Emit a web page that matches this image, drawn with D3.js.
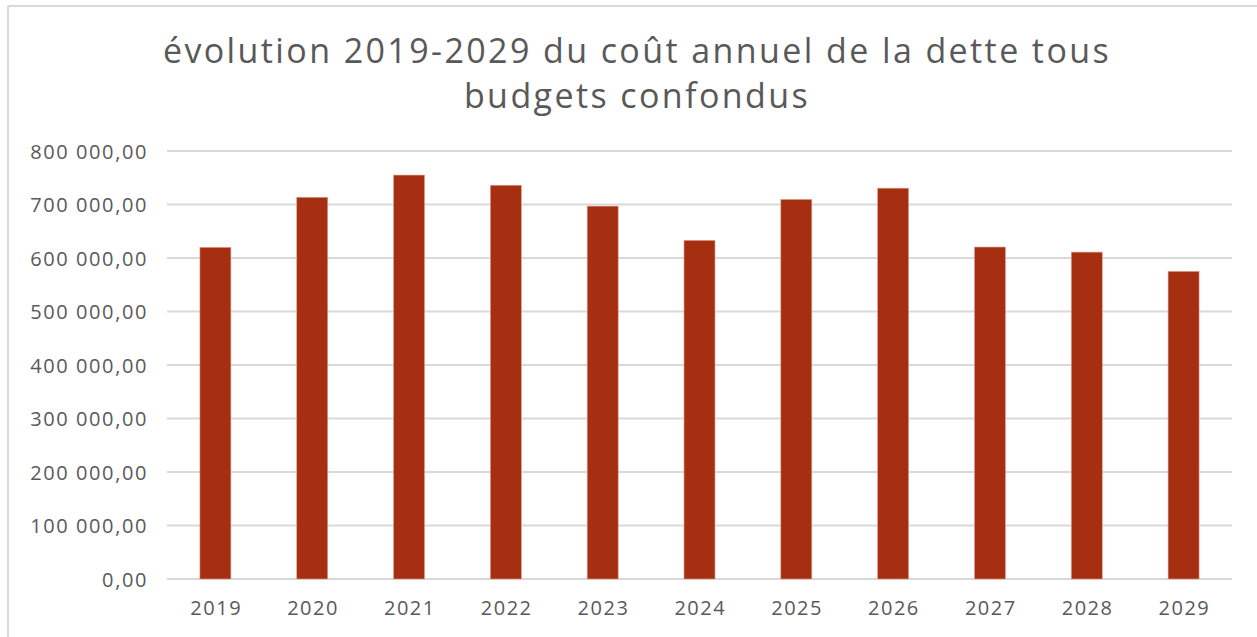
<!DOCTYPE html>
<html>
<head>
<meta charset="utf-8">
<script src="https://cdn.jsdelivr.net/npm/d3@7"></script>
<style>
  body { margin: 0; background: #fff; }
  svg { display: block; }
  text { font-family: "Open Sans", "DejaVu Sans", sans-serif; fill: #595959; }
</style>
</head>
<body>
<svg width="1257" height="637"></svg>
<script>
const years = ["2019", "2020", "2021", "2022", "2023", "2024", "2025", "2026", "2027", "2028", "2029"];
const cost = [620000, 713500, 755000, 736000, 697000, 633000, 709500, 730500, 620500, 611000, 575000];
const yTicks = [0, 100000, 200000, 300000, 400000, 500000, 600000, 700000, 800000];
const titleLines = ["évolution 2019-2029  du coût annuel de la dette tous", "budgets confondus"];

const svg = d3.select("svg");
const width = +svg.attr("width");
const height = +svg.attr("height");
const margin = { top: 151, right: 25, bottom: 58, left: 167 };

// frame (only top and left edges are visible in the crop)
svg.append("line")
    .attr("x1", 8).attr("x2", width)
    .attr("y1", 6).attr("y2", 6)
    .attr("stroke", "#d9d9d9").attr("stroke-width", 2);
svg.append("line")
    .attr("x1", 8).attr("x2", 8)
    .attr("y1", 6).attr("y2", height)
    .attr("stroke", "#d9d9d9").attr("stroke-width", 2);

const x = d3.scaleBand()
    .domain(years)
    .range([margin.left, width - margin.right])
    .paddingInner(0.68)
    .paddingOuter(0.34);

const y = d3.scaleLinear()
    .domain([0, 800000])
    .range([height - margin.bottom, margin.top]);

const fmt = v => d3.format(",.2f")(v).replace(/,/g, " ").replace(".", ",");

// gridlines
svg.append("g")
    .selectAll("line")
    .data(yTicks)
    .enter()
    .append("line")
    .attr("x1", margin.left)
    .attr("x2", width - margin.right)
    .attr("y1", d => y(d))
    .attr("y2", d => y(d))
    .attr("stroke", "#d9d9d9")
    .attr("stroke-width", 2);

// y axis labels
const yAxis = d3.axisLeft(y).tickValues(yTicks).tickFormat(fmt).tickSize(0).tickPadding(19);
const gy = svg.append("g")
    .attr("transform", `translate(${margin.left},0)`)
    .call(yAxis);
gy.select(".domain").remove();
gy.selectAll("text")
    .style("font-size", "20px")
    .style("letter-spacing", "1.6px")
    .attr("fill", "#595959")
    .attr("dy", "0.35em");

// bars
svg.append("g")
    .selectAll("rect")
    .data(cost)
    .enter()
    .append("rect")
    .attr("x", (d, i) => x(years[i]))
    .attr("y", d => y(d))
    .attr("width", x.bandwidth())
    .attr("height", d => y(0) - y(d))
    .attr("fill", "#a52f10")
    .attr("stroke", "#e2a08c")
    .attr("stroke-width", 0.6);

// x axis labels
const xAxis = d3.axisBottom(x).tickSize(0).tickPadding(22);
const gx = svg.append("g")
    .attr("transform", `translate(0.8,${height - margin.bottom})`)
    .call(xAxis);
gx.select(".domain").remove();
gx.selectAll("text")
    .style("font-size", "20px")
    .style("letter-spacing", "1.5px")
    .attr("fill", "#595959");

// title
svg.append("g")
    .selectAll("text")
    .data(titleLines)
    .enter()
    .append("text")
    .attr("x", 637)
    .attr("y", (d, i) => 63 + i * 45)
    .attr("text-anchor", "middle")
    .style("font-size", "34px")
    .style("letter-spacing", "2.4px")
    .text(d => d);
</script>
</body>
</html>
